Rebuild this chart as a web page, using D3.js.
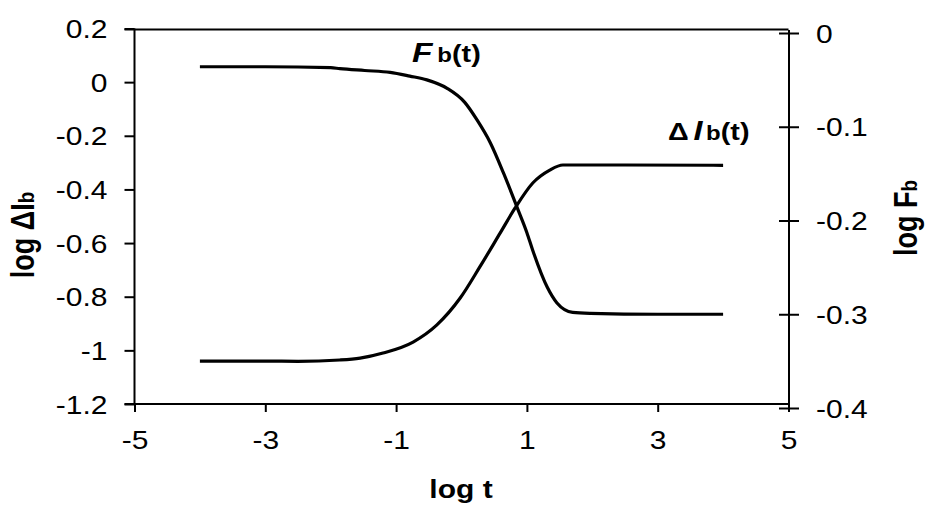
<!DOCTYPE html>
<html>
<head>
<meta charset="utf-8">
<script src="https://cdn.jsdelivr.net/npm/d3@7"></script>
<style>
  html, body { margin: 0; padding: 0; background: #fff; }
  svg { display: block; }
  text { font-family: "Liberation Sans", Arial, sans-serif; fill: #000; }
</style>
</head>
<body>
<svg id="chart" width="929" height="507"></svg>
<script>
// ---- data ----
const xTicks = [-5, -3, -1, 1, 3, 5];
const leftTicks = [0.2, 0, -0.2, -0.4, -0.6, -0.8, -1, -1.2];
const rightTicks = [0, -0.1, -0.2, -0.3, -0.4];

// F_b(t) — plotted against the right axis (log F_b)
const fbLogT = [-4, -3, -2, -1.86, -1.48, -1.09, -0.79, -0.53, -0.22, 0.05, 0.24, 0.44, 0.64, 0.85, 1.0, 1.09, 1.31, 1.46, 1.7, 1.97, 3, 4];
const fbVal  = [-0.036, -0.036, -0.037, -0.038, -0.040, -0.042, -0.046, -0.050, -0.059, -0.074, -0.093, -0.117, -0.149, -0.186, -0.213, -0.232, -0.271, -0.288, -0.298, -0.299, -0.300, -0.300];

// ΔI_b(t) — plotted against the left axis (log ΔI_b)
const diLogT = [-4, -3, -2.5, -1.86, -1.55, -1.2, -0.74, -0.38, -0.02, 0.28, 0.59, 0.82, 1.09, 1.35, 1.55, 2.5, 4];
const diVal  = [-1.040, -1.040, -1.041, -1.036, -1.029, -1.010, -0.969, -0.906, -0.805, -0.689, -0.563, -0.469, -0.376, -0.328, -0.309, -0.309, -0.310];

// ---- layout ----
const svg = d3.select("#chart");
const X0 = 134.5, X1 = 788.5;
const x = d3.scaleLinear().domain([-5, 5]).range([X0, X1]);
const yL = d3.scaleLinear().domain([-1.2, 0.2]).range([404, 28.5]);
const yR = d3.scaleLinear().domain([-0.4, 0]).range([408, 33]);
const SX = 1.2; // horizontal stretch of the reference's lettering

// frame: top border line
svg.append("line")
  .attr("x1", X0 - 10).attr("x2", X1).attr("y1", 29.5).attr("y2", 29.5)
  .attr("stroke", "#000").attr("stroke-width", 2);

// left axis
const gL = svg.append("g").attr("transform", `translate(${X0},0)`)
  .call(d3.axisLeft(yL).tickValues(leftTicks).tickSize(10).tickFormat(d => String(d)));
gL.select(".domain").attr("stroke-width", 2).attr("d", `M0,${yL(0.2)}V${yL(-1.2)}`);
gL.selectAll(".tick line").attr("stroke-width", 2);
gL.selectAll(".tick text")
  .attr("x", -27 / SX).attr("dy", "0.36em")
  .attr("transform", `scale(${SX},1)`)
  .style("font-size", "25px").style("font-family", "'Liberation Sans', Arial, sans-serif");

// right axis (ticks cross the line)
const gR = svg.append("g").attr("transform", `translate(${X1 + 0.5},0)`)
  .call(d3.axisRight(yR).tickValues(rightTicks).tickSize(10).tickFormat(d => String(d)));
gR.select(".domain").attr("stroke-width", 2).attr("d", `M0,30V${yR(-0.4) + 3}`);
gR.selectAll(".tick line").attr("x1", -10).attr("x2", 10).attr("stroke-width", 2);
gR.selectAll(".tick text")
  .attr("x", 27 / SX).attr("dy", "0.36em")
  .attr("transform", `scale(${SX},1)`)
  .style("font-size", "25px").style("font-family", "'Liberation Sans', Arial, sans-serif");

// bottom axis
const gB = svg.append("g").attr("transform", `translate(0,404)`)
  .call(d3.axisBottom(x).tickValues(xTicks).tickSize(8).tickFormat(d => String(d)));
gB.select(".domain").attr("stroke-width", 2).attr("d", `M${X0 - 10},0H${X1}`);
gB.selectAll(".tick line").attr("stroke-width", 2);
gB.selectAll(".tick text")
  .attr("y", 36).attr("dy", "0.36em")
  .attr("transform", `scale(${SX},1)`)
  .style("font-size", "25px").style("font-family", "'Liberation Sans', Arial, sans-serif");

// curves
const lineFb = d3.line().x((d, i) => x(fbLogT[i])).y((d, i) => yR(fbVal[i])).curve(d3.curveMonotoneX);
const lineDi = d3.line().x((d, i) => x(diLogT[i])).y((d, i) => yL(diVal[i])).curve(d3.curveMonotoneX);
svg.append("path").attr("d", lineFb(fbVal)).attr("fill", "none").attr("stroke", "#000").attr("stroke-width", 3.2);
svg.append("path").attr("d", lineDi(diVal)).attr("fill", "none").attr("stroke", "#000").attr("stroke-width", 3.2);

// helper for stretched text
function label(px, py, parts, opts = {}) {
  const g = svg.append("g").attr("transform", `translate(${px},${py})` + (opts.rotate ? ` rotate(${opts.rotate})` : ""));
  const t = g.append("text")
    .attr("transform", opts.rotate ? `scale(1,${SX})` : `scale(${SX},1)`)
    .attr("text-anchor", opts.anchor || "start")
    .attr("dy", opts.dy || 0)
    .style("font-weight", "bold");
  parts.forEach(p => {
    const s = t.append("tspan").text(p.t).style("font-size", p.size + "px");
    if (p.italic) s.style("font-style", "italic");
    if (p.dx) s.attr("dx", p.dx);
  });
  return t;
}

// series labels
label(412, 62, [{t: "F", size: 28, italic: true}, {t: "b", size: 20, dx: 4}, {t: "(t)", size: 24}]);
label(668, 140, [{t: "\u0394", size: 24}, {t: "I", size: 27, italic: true, dx: 4}, {t: "b", size: 20, dx: 3}, {t: "(t)", size: 24}]);

// axis titles
label(461, 498, [{t: "log t", size: 25}], {anchor: "middle"});
label(27, 235, [{t: "log \u0394I", size: 27}, {t: "b", size: 19}], {anchor: "middle", rotate: -90, dy: "0.35em"});
label(910, 218, [{t: "log F", size: 27}, {t: "b", size: 19}], {anchor: "middle", rotate: -90, dy: "0.35em"});
</script>
</body>
</html>
